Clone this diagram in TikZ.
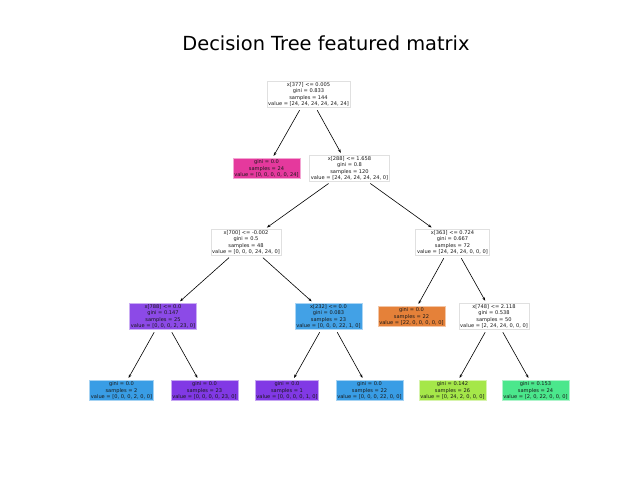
\documentclass[tikz,border=0pt]{standalone}
\usepackage{fontspec}
\setmainfont{DejaVu Sans}
\usetikzlibrary{arrows.meta}
\definecolor{cpink}{HTML}{E5399D}
\definecolor{corange}{HTML}{E58139}
\definecolor{cblue}{HTML}{399DE5}
\definecolor{cpurple}{HTML}{8139E5}
\definecolor{cpurplel}{HTML}{8C4AE7}
\definecolor{cbluel}{HTML}{42A1E6}
\definecolor{cyg}{HTML}{A5E749}
\definecolor{cgreen}{HTML}{4BE78C}
\tikzset{
  tbox/.style={draw=black!12, fill=white, line width=0.8pt, align=center,
    inner xsep=1.3pt, inner ysep=1.4pt, text=black!90,
    font=\fontsize{5.1}{6.3}\selectfont},
  cbox/.style={tbox, fill=#1, draw=#1!45!white},
  edge/.style={line width=0.6pt, -{Stealth[length=3.6pt,width=2.6pt]},
    shorten <=2.5pt, shorten >=2.5pt}
}
\begin{document}
\begin{tikzpicture}[x=1pt,y=-1pt]
\useasboundingbox (0,0) rectangle (640,480);
\node[font=\fontsize{19.4}{23}\selectfont, anchor=base] (title) at (326,50.5) {Decision Tree featured matrix};

\node[tbox] (root) at (308.5,94.5) {x[377] <= 0.005\\gini = 0.833\\samples = 144\\value = [24, 24, 24, 24, 24, 24]};

\node[cbox=cpink] (a) at (266.5,168.5) {gini = 0.0\\samples = 24\\value = [0, 0, 0, 0, 0, 24]};
\node[tbox] (b) at (349.5,168.5) {x[288] <= 1.658\\gini = 0.8\\samples = 120\\value = [24, 24, 24, 24, 24, 0]};

\node[tbox] (ba) at (246,242.5) {x[700] <= -0.002\\gini = 0.5\\samples = 48\\value = [0, 0, 0, 24, 24, 0]};
\node[tbox] (bb) at (452.5,242.5) {x[363] <= 0.724\\gini = 0.667\\samples = 72\\value = [24, 24, 24, 0, 0, 0]};

\node[cbox=cpurplel] (baa) at (163,316.5) {x[788] <= 0.0\\gini = 0.147\\samples = 25\\value = [0, 0, 0, 2, 23, 0]};
\node[cbox=cbluel] (bab) at (328.5,316.5) {x[232] <= 0.0\\gini = 0.083\\samples = 23\\value = [0, 0, 0, 22, 1, 0]};
\node[cbox=corange] (bba) at (411.5,316.5) {gini = 0.0\\samples = 22\\value = [22, 0, 0, 0, 0, 0]};
\node[tbox] (bbb) at (494,316.5) {x[748] <= 2.118\\gini = 0.538\\samples = 50\\value = [2, 24, 24, 0, 0, 0]};

\node[cbox=cblue] (baaa) at (121.5,390.5) {gini = 0.0\\samples = 2\\value = [0, 0, 0, 2, 0, 0]};
\node[cbox=cpurple] (baab) at (204.5,390.5) {gini = 0.0\\samples = 23\\value = [0, 0, 0, 0, 23, 0]};
\node[cbox=cpurple] (baba) at (287,390.5) {gini = 0.0\\samples = 1\\value = [0, 0, 0, 0, 1, 0]};
\node[cbox=cblue] (babb) at (369.5,390.5) {gini = 0.0\\samples = 22\\value = [0, 0, 0, 22, 0, 0]};
\node[cbox=cyg] (bbba) at (452.5,390.5) {gini = 0.142\\samples = 26\\value = [0, 24, 2, 0, 0, 0]};
\node[cbox=cgreen] (bbbb) at (535.5,390.5) {gini = 0.153\\samples = 24\\value = [2, 0, 22, 0, 0, 0]};

\draw[edge] (root) -- (a);
\draw[edge] (root) -- (b);
\draw[edge] (b) -- (ba);
\draw[edge] (b) -- (bb);
\draw[edge] (ba) -- (baa);
\draw[edge] (ba) -- (bab);
\draw[edge] (bb) -- (bba);
\draw[edge] (bb) -- (bbb);
\draw[edge] (baa) -- (baaa);
\draw[edge] (baa) -- (baab);
\draw[edge] (bab) -- (baba);
\draw[edge] (bab) -- (babb);
\draw[edge] (bbb) -- (bbba);
\draw[edge] (bbb) -- (bbbb);
\end{tikzpicture}
\end{document}
